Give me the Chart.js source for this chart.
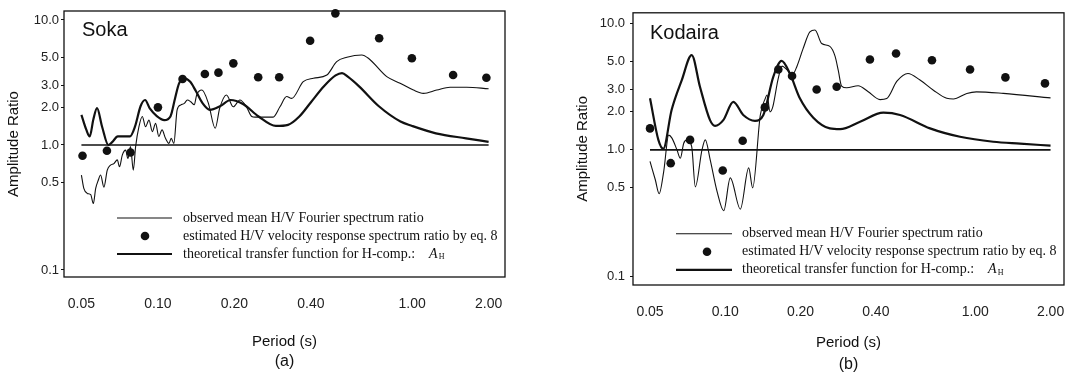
<!DOCTYPE html>
<html>
<head>
<meta charset="utf-8">
<script src="https://cdn.jsdelivr.net/npm/chart.js@4.4.1/dist/chart.umd.min.js"></script>
<style>
  body { margin: 0; background: #fff; }
  #wrap { position: relative; width: 1071px; height: 375px; }
  .panel { position: absolute; top: 0; height: 375px; }
  #soka_box { left: 0; width: 535px; }
  #kodaira_box { left: 535px; width: 536px; }
</style>
</head>
<body>
<div id="wrap">
  <div class="panel" id="soka_box"><canvas id="soka_chart"></canvas></div>
  <div class="panel" id="kodaira_box"><canvas id="kodaira_chart"></canvas></div>
</div>
<script>
// tick labels, same for both panels
const period_ticks = [0.05, 0.10, 0.20, 0.40, 1.00, 2.00];
const ratio_ticks = [0.1, 0.5, 1.0, 2.0, 3.0, 5.0, 10.0];

// legend texts
const obs_label = "observed mean H/V Fourier spectrum ratio";
const est_label = "estimated H/V velocity response spectrum ratio by eq. 8";
const theo_label = "theoretical transfer function for H-comp.:";

// (a) Soka - observed mean H/V Fourier ratio (thin line)
const soka_obs_t = [0.050, 0.0511, 0.0527, 0.0544, 0.0557, 0.0569, 0.0582, 0.0595, 0.0613, 0.0632,
  0.0651, 0.0671, 0.0692, 0.0706, 0.0724, 0.0746, 0.0762, 0.0780, 0.0800, 0.0817,
  0.0842, 0.0868, 0.0894, 0.0922, 0.0951, 0.0979, 0.1008, 0.1038, 0.1071, 0.1105,
  0.1128, 0.1155, 0.119, 0.123, 0.127, 0.1305, 0.1346, 0.139, 0.142, 0.149,
  0.158, 0.168, 0.175, 0.186, 0.198, 0.210, 0.223, 0.234, 0.241, 0.284,
  0.302, 0.321, 0.336, 0.373, 0.409, 0.462, 0.505, 0.554, 0.634, 0.673,
  0.795, 0.897, 1.012, 1.108, 1.25, 1.41, 1.64, 2.00];
const soka_obs_a = [0.575, 0.45, 0.41, 0.40, 0.34, 0.45, 0.52, 0.575, 0.46, 0.63,
  0.69, 0.71, 0.76, 0.67, 0.83, 0.91, 0.78, 0.97, 0.63, 0.97,
  1.40, 1.69, 1.40, 1.58, 1.28, 1.49, 1.17, 1.32, 1.13, 1.03,
  1.13, 1.03, 1.91, 2.09, 2.15, 2.29, 2.22, 2.10, 2.51, 2.75,
  2.15, 1.36, 1.97, 2.51, 2.02, 2.29, 2.02, 1.69, 1.67, 1.67,
  2.02, 2.44, 2.36, 3.21, 3.42, 3.63, 4.64, 5.03, 5.25, 4.94,
  3.52, 3.12, 2.75, 2.59, 2.75, 2.90, 2.90, 2.82];

// (a) Soka - theoretical transfer function (thick line)
const soka_theo_t = [0.050, 0.0523, 0.0539, 0.0557, 0.0576, 0.0603, 0.0638, 0.0662, 0.0695, 0.0776,
  0.0812, 0.0855, 0.0890, 0.0929, 0.0990, 0.106, 0.112, 0.117, 0.121, 0.127,
  0.134, 0.141, 0.150, 0.160, 0.176, 0.193, 0.216, 0.249, 0.291, 0.325,
  0.360, 0.400, 0.450, 0.500, 0.530, 0.560, 0.620, 0.740, 0.900, 1.00,
  1.24, 1.63, 2.00];
const soka_theo_a = [1.74, 1.32, 1.17, 1.60, 1.97, 1.40, 1.00, 1.06, 1.17, 1.17,
  1.40, 2.05, 2.29, 1.96, 1.70, 1.58, 1.69, 2.40, 3.10, 3.41,
  3.20, 2.70, 2.15, 1.91, 2.05, 2.29, 2.13, 1.69, 1.42, 1.45,
  1.69, 2.20, 2.95, 3.60, 3.76, 3.50, 2.93, 2.04, 1.54, 1.42,
  1.24, 1.13, 1.06];

// (a) Soka - estimated H/V velocity response ratio (dots)
const soka_est_t = [0.0505, 0.063, 0.078, 0.100, 0.125, 0.153, 0.173, 0.198, 0.248, 0.300,
  0.397, 0.499, 0.742, 0.998, 1.45, 1.96];
const soka_est_a = [0.82, 0.90, 0.87, 2.00, 3.37, 3.70, 3.79, 4.50, 3.48, 3.48,
  6.83, 11.3, 7.14, 4.94, 3.63, 3.45];

// (b) Kodaira - observed
const kod_obs_t = [0.050, 0.0525, 0.0544, 0.0567, 0.0594, 0.0612, 0.0641, 0.0661, 0.0682, 0.0703,
  0.0734, 0.0759, 0.0807, 0.0832, 0.0871, 0.0927, 0.0986, 0.1047, 0.1149, 0.1241,
  0.1287, 0.1381, 0.1446, 0.1469, 0.151, 0.155, 0.1625, 0.1687, 0.1766, 0.185,
  0.1936, 0.2046, 0.218, 0.2285, 0.243, 0.262, 0.275, 0.283, 0.292, 0.306,
  0.340, 0.372, 0.416, 0.4425, 0.486, 0.538, 0.601, 0.680, 0.769, 0.817,
  0.925, 1.01, 1.295, 2.00];
const kod_obs_a = [0.81, 0.58, 0.45, 0.67, 1.31, 1.24, 1.00, 0.86, 1.13, 1.20,
  1.06, 0.51, 1.00, 1.20, 0.83, 0.47, 0.33, 0.60, 0.34, 0.72,
  0.50, 1.89, 2.56, 2.72, 2.00, 2.20, 3.60, 4.60, 4.30, 3.90,
  4.60, 6.30, 8.60, 8.90, 6.95, 6.60, 5.50, 4.28, 3.20, 3.10,
  3.22, 2.90, 2.50, 2.55, 3.50, 4.03, 3.57, 2.97, 2.56, 2.53,
  2.80, 2.88, 2.80, 2.58];

// (b) Kodaira - theoretical
const kod_theo_t = [0.050, 0.054, 0.0565, 0.061, 0.067, 0.0734, 0.0792, 0.0869, 0.091, 0.0982,
  0.1077, 0.118, 0.1315, 0.142, 0.1556, 0.168, 0.1815, 0.199, 0.225, 0.262,
  0.288, 0.346, 0.429, 0.500, 0.659, 0.869, 1.18, 1.51, 2.00];
const kod_theo_a = [2.56, 1.20, 1.02, 2.07, 3.57, 5.63, 3.16, 1.72, 1.55, 1.72,
  2.40, 1.89, 1.70, 1.89, 3.79, 5.06, 4.00, 2.55, 1.80, 1.48,
  1.46, 1.67, 1.97, 1.89, 1.48, 1.27, 1.16, 1.12, 1.08];

// (b) Kodaira - estimated
const kod_est_t = [0.050, 0.0605, 0.0723, 0.0977, 0.1174, 0.144, 0.163, 0.185, 0.232, 0.279,
  0.379, 0.482, 0.671, 0.953, 1.32, 1.90];
const kod_est_a = [1.48, 0.785, 1.20, 0.687, 1.18, 2.17, 4.33, 3.84, 3.01, 3.16,
  5.20, 5.80, 5.13, 4.33, 3.75, 3.36];

// reference line at ratio 1
const ref_t = [0.05, 2.00];
const ref_a = [1.0, 1.0];

const ink = "#111";
const sans = "'Liberation Sans', Arial, sans-serif";
const serif = "'Liberation Serif', 'Times New Roman', serif";

function make_points(ts, as) {
  return ts.map((t, i) => ({x: t, y: as[i]}));
}

// frame, station name and the legend drawn inside the plot box
const box_legend = {
  id: "box_legend",
  afterDatasetsDraw(chart, args, opts) {
    const ctx = chart.ctx;
    const area = chart.chartArea;
    ctx.save();
    ctx.strokeStyle = ink;
    ctx.fillStyle = ink;
    ctx.lineWidth = 1.3;
    ctx.strokeRect(area.left, area.top, area.right - area.left, area.bottom - area.top);

    ctx.textBaseline = "middle";
    ctx.font = "20px " + sans;
    ctx.fillText(opts.station, area.left + opts.name_dx, area.top + opts.name_dy);

    const items = chart.data.datasets.filter(ds => ds.in_legend);
    items.forEach((ds, i) => {
      const y = area.top + opts.rows[i];
      if (ds.showLine === false) {
        ctx.beginPath();
        ctx.arc(area.left + opts.dot_x, y, ds.pointRadius, 0, 2 * Math.PI);
        ctx.fill();
      } else {
        ctx.lineWidth = ds.borderWidth;
        ctx.beginPath();
        ctx.moveTo(area.left + opts.line_x0, y);
        ctx.lineTo(area.left + opts.line_x1, y);
        ctx.stroke();
      }
      ctx.font = "14px " + serif;
      ctx.fillText(ds.label, area.left + opts.text_x, y);
      if (ds.symbol) {
        // italic A with subscript H
        const w = ctx.measureText(ds.label).width;
        const sx = area.left + opts.text_x + w + 14;
        ctx.font = "italic 14px " + serif;
        ctx.fillText(ds.symbol[0], sx, y);
        const aw = ctx.measureText(ds.symbol[0]).width;
        ctx.font = "8px " + serif;
        ctx.fillText(ds.symbol[1], sx + aw + 1, y + 3);
      }
    });
    ctx.restore();
  }
};

function build_datasets(obs_t, obs_a, theo_t, theo_a, est_t, est_a) {
  return [
    {
      label: "ref", data: make_points(ref_t, ref_a),
      borderColor: ink, borderWidth: 1.6, pointRadius: 0, in_legend: false
    },
    {
      label: obs_label, data: make_points(obs_t, obs_a),
      borderColor: ink, borderWidth: 1.1, pointRadius: 0,
      cubicInterpolationMode: "monotone", in_legend: true
    },
    {
      label: est_label, data: make_points(est_t, est_a),
      showLine: false, pointRadius: 4.3, pointBackgroundColor: ink,
      pointBorderWidth: 0, borderColor: ink, clip: false, in_legend: true
    },
    {
      label: theo_label, data: make_points(theo_t, theo_a),
      borderColor: ink, borderWidth: 2.2, pointRadius: 0,
      cubicInterpolationMode: "monotone", in_legend: true, symbol: ["A", "H"]
    }
  ];
}

function create_chart(canvas_id, datasets, lay) {
  return new Chart(document.getElementById(canvas_id).getContext("2d"), {
    type: "line",
    data: {datasets: datasets},
    plugins: [box_legend],
    options: {
      responsive: true,
      maintainAspectRatio: false,
      animation: false,
      layout: {padding: lay.padding},
      plugins: {
        legend: {display: false},
        tooltip: {enabled: false},
        subtitle: {
          display: true, text: lay.tag, position: "bottom", fullSize: false,
          color: ink, padding: 0, font: {size: 16, family: sans, weight: "normal"}
        },
        box_legend: lay.legend
      },
      scales: {
        x: {
          type: "logarithmic",
          min: lay.x_min, max: lay.x_max,
          grid: {display: false, drawTicks: false},
          border: {display: false},
          afterBuildTicks: s => { s.ticks = period_ticks.map(v => ({value: v})); },
          // fixed height, and don't let the end labels squeeze the plot
          afterFit: s => { s.height = lay.x_height; s.paddingLeft = 0; s.paddingRight = 0; },
          ticks: {
            autoSkip: false, maxRotation: 0, padding: 19, color: "#222",
            font: {size: 14, family: sans},
            callback: v => Number(v).toFixed(2)
          },
          title: {
            display: true, text: "Period (s)", color: ink,
            font: {size: 15, family: sans}, padding: {top: 0, bottom: lay.x_title_pad}
          }
        },
        y: {
          type: "logarithmic",
          min: lay.y_min, max: lay.y_max,
          grid: {display: true, drawOnChartArea: false, drawTicks: true, tickLength: 3, color: ink},
          border: {display: false},
          afterBuildTicks: s => { s.ticks = ratio_ticks.map(v => ({value: v})); },
          afterFit: s => { s.width = 64; },
          ticks: {
            autoSkip: false, padding: lay.y_tick_pad, color: "#222",
            font: {size: 13, family: sans},
            callback: v => Number(v).toFixed(1)
          },
          title: {
            display: true, text: "Amplitude Ratio", color: ink,
            font: {size: 15, family: sans}, padding: {top: 5, bottom: 0}
          }
        }
      }
    }
  });
}

var charts = {};

function init() {
  charts.soka = create_chart("soka_chart",
    build_datasets(soka_obs_t, soka_obs_a, soka_theo_t, soka_theo_a, soka_est_t, soka_est_a),
    {
      padding: {left: 0, right: 30, top: 11, bottom: 4},
      tag: "(a)", x_min: 0.0427, x_max: 2.32, y_min: 0.0879, y_max: 11.8,
      x_height: 74.8, x_title_pad: 1, y_tick_pad: 2,
      legend: {station: "Soka", name_dx: 18, name_dy: 19, rows: [207, 225, 243],
               line_x0: 53, line_x1: 108, dot_x: 81, text_x: 119}
    });
  charts.kodaira = create_chart("kodaira_chart",
    build_datasets(kod_obs_t, kod_obs_a, kod_theo_t, kod_theo_a, kod_est_t, kod_est_a),
    {
      padding: {left: 34, right: 7, top: 12, bottom: 1},
      tag: "(b)", x_min: 0.04275, x_max: 2.264, y_min: 0.0852, y_max: 12.17,
      x_height: 69.8, x_title_pad: 3, y_tick_pad: 5,
      legend: {station: "Kodaira", name_dx: 17, name_dy: 21, rows: [221, 239, 257],
               line_x0: 43, line_x1: 99, dot_x: 74, text_x: 109}
    });
}

init();
</script>
</body>
</html>
